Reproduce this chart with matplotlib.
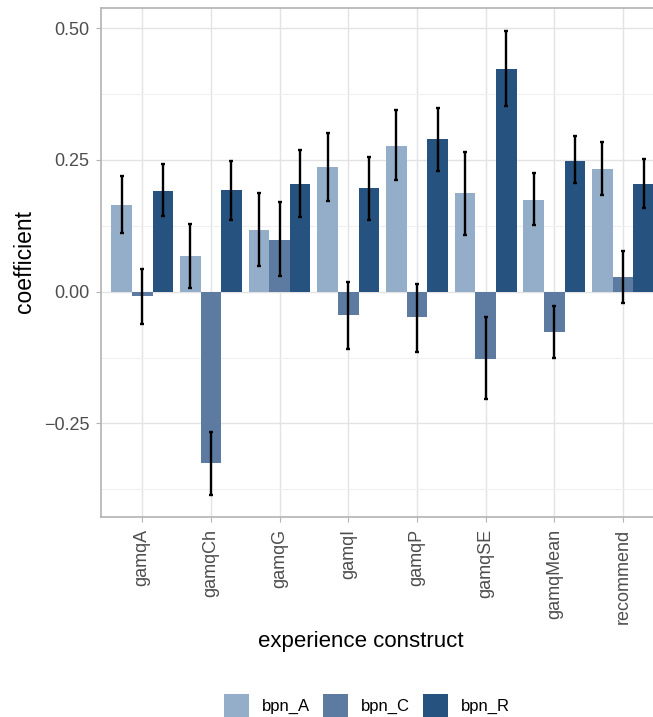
import matplotlib.pyplot as plt
import numpy as np
from matplotlib.patches import Patch

plt.rcParams['font.family'] = ['Liberation Sans', 'DejaVu Sans']

constructs = ['gamqA', 'gamqCh', 'gamqG', 'gamqI', 'gamqP', 'gamqSE', 'gamqMean', 'recommend']
groups = ['bpn_A', 'bpn_C', 'bpn_R']
colors = ['#94AEC9', '#5D7BA0', '#26527F']

# coefficient estimates per group
coef_A = [0.165, 0.067, 0.118, 0.237, 0.277, 0.187, 0.174, 0.232]
coef_C = [-0.008, -0.325, 0.099, -0.044, -0.049, -0.128, -0.077, 0.027]
coef_R = [0.192, 0.193, 0.205, 0.196, 0.289, 0.423, 0.249, 0.205]

# confidence interval bounds
lo_A = [0.112, 0.007, 0.048, 0.172, 0.212, 0.108, 0.127, 0.184]
hi_A = [0.220, 0.128, 0.188, 0.302, 0.345, 0.266, 0.225, 0.285]
lo_C = [-0.061, -0.385, 0.030, -0.109, -0.115, -0.204, -0.125, -0.022]
hi_C = [0.044, -0.266, 0.170, 0.019, 0.014, -0.049, -0.027, 0.078]
lo_R = [0.144, 0.137, 0.142, 0.137, 0.229, 0.353, 0.206, 0.158]
hi_R = [0.242, 0.248, 0.269, 0.256, 0.349, 0.495, 0.296, 0.251]

coefs = [coef_A, coef_C, coef_R]
lows = [lo_A, lo_C, lo_R]
highs = [hi_A, hi_C, hi_R]

W, H = 653, 717
fig = plt.figure(figsize=(W / 100, H / 100), dpi=100)
ax = fig.add_axes([101 / W, 1 - 517 / H, (W - 101) / W, 509 / H])

x = np.arange(len(constructs))
bw = 0.3
for i in range(3):
    pos = x + (i - 1) * bw
    c = np.array(coefs[i])
    ax.bar(pos, c, width=bw, color=colors[i], zorder=2)
    err = [c - np.array(lows[i]), np.array(highs[i]) - c]
    ax.errorbar(pos, c, yerr=err, fmt='none', ecolor='black',
                elinewidth=1.7, capsize=1.6, capthick=1.7, zorder=3)

ax.set_xlim(-0.6, 7.437)
ax.set_ylim(-0.4277, 0.5385)
ax.set_xticks(x)
ax.set_xticklabels(constructs, rotation=90, va='top', ha='center')
ax.set_yticks([-0.25, 0.0, 0.25, 0.5])
ax.set_yticklabels(['\u22120.25', '0.00', '0.25', '0.50'])
ax.set_yticks([-0.375, -0.125, 0.125, 0.375], minor=True)

ax.grid(True, which='major', color='#E3E3E3', linewidth=1.0, zorder=0)
ax.grid(True, which='minor', axis='y', color='#F0F0F0', linewidth=0.8, zorder=0)
ax.set_axisbelow(True)

for side in ['left', 'top', 'bottom']:
    ax.spines[side].set_color('#B3B3B3')
    ax.spines[side].set_linewidth(1.2)
ax.spines['right'].set_visible(False)

ax.tick_params(axis='both', which='major', length=3.5, color='#B3B3B3',
               labelcolor='#4D4D4D', labelsize=13, pad=5)
ax.tick_params(axis='y', which='minor', length=0)

fig.text(25 / W, 1 - 262 / H, 'coefficient', rotation=90, fontsize=16.5,
         ha='center', va='center')
fig.text(361 / W, 1 - 642 / H, 'experience construct', fontsize=16,
         ha='center', va='center')

handles = [Patch(facecolor=colors[i], label=groups[i]) for i in range(3)]
fig.legend(handles=handles, loc='center', bbox_to_anchor=(367 / W, 1 - 706 / H),
           ncol=3, frameon=False, fontsize=12, handlelength=1.5,
           handleheight=1.9, handletextpad=0.8, columnspacing=0.75)

fig.savefig('out.png', dpi=100)
